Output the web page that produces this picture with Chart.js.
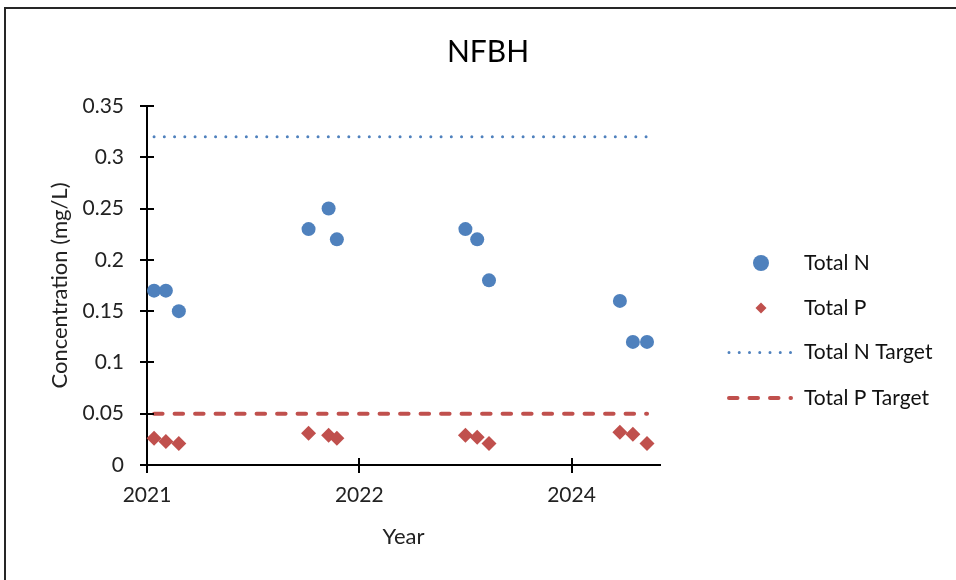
<!DOCTYPE html>
<html>
<head>
<meta charset="utf-8">
<title>NFBH</title>
<script src="https://cdn.jsdelivr.net/npm/chart.js@4.4.1/dist/chart.umd.min.js"></script>
<style>
  html, body { margin: 0; padding: 0; background: #fff; overflow: hidden; }
  #wrap { position: relative; width: 956px; height: 580px; }
  #frame { position: absolute; left: 4px; top: 7px; width: 1000px; height: 700px; border: 2px solid #262626; pointer-events: none; }
</style>
</head>
<body>
<div id="wrap">
  <canvas id="chart" width="956" height="580"></canvas>
  <div id="frame"></div>
</div>
<script>
// sampling dates, as months after Jan 2021
const sampleMonths = [0.6, 1.6, 2.7, 13.7, 15.4, 16.1, 27.0, 28.0, 29.0, 40.1, 41.2, 42.4];
const totalN = [0.17, 0.17, 0.15, 0.23, 0.25, 0.22, 0.23, 0.22, 0.18, 0.16, 0.12, 0.12];
const totalP = [0.026, 0.023, 0.021, 0.031, 0.029, 0.026, 0.029, 0.027, 0.021, 0.032, 0.030, 0.021];

// targets run from first to last sample
const targetMonths = [0.6, 42.4];
const totalNTarget = [0.32, 0.32];
const totalPTarget = [0.05, 0.05];

const xTickMonths = [0, 18, 36];
const xTickLabels = ['2021', '2022', '2024'];
const yTickLabels = ['0', '0.05', '0.1', '0.15', '0.2', '0.25', '0.3', '0.35'];

const chartTitle = 'NFBH';
const blue = '#4F81BD';
const red = '#C0504D';

Chart.defaults.font.family = "Lato, 'Open Sans', sans-serif";
Chart.defaults.color = '#222';

const toPoints = (xs, ys) => xs.map((x, i) => ({ x: x, y: ys[i] }));

// Excel style "cross" tick marks: the part inside the plot
const crossTicks = {
    id: 'crossTicks',
    afterDraw(chart) {
        const { ctx, chartArea, scales } = chart;
        ctx.save();
        ctx.strokeStyle = '#000';
        ctx.lineWidth = 2;
        ctx.beginPath();
        scales.y.ticks.forEach(t => {
            const py = Math.round(scales.y.getPixelForValue(t.value));
            ctx.moveTo(chartArea.left, py);
            ctx.lineTo(chartArea.left + 7, py);
        });
        scales.x.ticks.forEach(t => {
            const px = Math.round(scales.x.getPixelForValue(t.value));
            ctx.moveTo(px, chartArea.bottom);
            ctx.lineTo(px, chartArea.bottom - 7);
        });
        ctx.stroke();
        ctx.restore();
    }
};

// title and legend on the right
const titleAndLegend = {
    id: 'titleAndLegend',
    afterDraw(chart) {
        const ctx = chart.ctx;
        ctx.save();
        ctx.fillStyle = '#000';
        ctx.font = "30px Lato, 'Open Sans', sans-serif";
        ctx.textAlign = 'center';
        ctx.textBaseline = 'middle';
        ctx.fillText(chartTitle, 488, 52);

        const rows = [263, 308, 352.5, 398];
        chart.data.datasets.forEach((ds, i) => {
            const cy = rows[i];
            if (ds.showLine) {
                ctx.save();
                ctx.strokeStyle = ds.borderColor;
                ctx.lineWidth = ds.borderWidth;
                ctx.lineCap = ds.borderCapStyle;
                ctx.setLineDash(ds.borderDash);
                ctx.beginPath();
                ctx.moveTo(729, cy);
                ctx.lineTo(791, cy);
                ctx.stroke();
                ctx.restore();
            } else {
                ctx.fillStyle = ds.backgroundColor;
                Chart.helpers.drawPoint(ctx, {
                    pointStyle: ds.pointStyle,
                    radius: ds.pointStyle === 'circle' ? 8 : 5.5,
                    rotation: 0,
                    borderWidth: 0
                }, 761, cy);
            }
            ctx.fillStyle = '#111';
            ctx.font = "21px Lato, 'Open Sans', sans-serif";
            ctx.textAlign = 'left';
            ctx.textBaseline = 'middle';
            ctx.fillText(ds.label, 804, cy);
        });
        ctx.restore();
    }
};

new Chart(document.getElementById('chart'), {
    type: 'scatter',
    data: {
        datasets: [
            {
                label: 'Total N',
                data: toPoints(sampleMonths, totalN),
                pointStyle: 'circle',
                pointRadius: 7,
                backgroundColor: blue,
                borderWidth: 0,
                clip: false
            },
            {
                label: 'Total P',
                data: toPoints(sampleMonths, totalP),
                pointStyle: 'rectRot',
                pointRadius: 7.5,
                backgroundColor: red,
                borderWidth: 0,
                clip: false
            },
            {
                label: 'Total N Target',
                data: toPoints(targetMonths, totalNTarget),
                showLine: true,
                borderColor: blue,
                borderWidth: 3,
                borderDash: [0, 10.25],
                borderCapStyle: 'round',
                pointRadius: 0,
                fill: false,
                clip: false
            },
            {
                label: 'Total P Target',
                data: toPoints(targetMonths, totalPTarget),
                showLine: true,
                borderColor: red,
                borderWidth: 4,
                borderDash: [8.5, 12],
                borderCapStyle: 'round',
                pointRadius: 0,
                fill: false,
                clip: false
            }
        ]
    },
    options: {
        responsive: false,
        animation: false,
        events: [],
        layout: { padding: { top: 106, right: 296, bottom: 0, left: 0 } },
        plugins: {
            legend: { display: false },
            title: { display: false },
            tooltip: { enabled: false }
        },
        scales: {
            x: {
                type: 'linear',
                min: 0,
                max: 43.5,
                afterBuildTicks: s => { s.ticks = xTickMonths.map(v => ({ value: v })); },
                afterFit: s => { s.height = 115; },
                ticks: {
                    callback: (v, i) => xTickLabels[i],
                    font: { size: 21 },
                    padding: 10,
                    maxRotation: 0,
                    autoSkip: false
                },
                grid: { drawOnChartArea: false, color: '#000', lineWidth: 2, tickLength: 8 },
                border: { color: '#000', width: 2 },
                title: {
                    display: true,
                    text: 'Year',
                    font: { size: 22 },
                    padding: { top: 0, bottom: 30 }
                }
            },
            y: {
                min: 0,
                max: 0.35,
                afterFit: s => { s.width = 147; },
                ticks: {
                    stepSize: 0.05,
                    callback: (v, i) => yTickLabels[i],
                    font: { size: 21 },
                    padding: 16
                },
                grid: { drawOnChartArea: false, color: '#000', lineWidth: 2, tickLength: 7 },
                border: { color: '#000', width: 2 },
                title: {
                    display: true,
                    text: 'Concentration (mg/L)',
                    font: { size: 22 },
                    padding: { top: 47, bottom: 0 }
                }
            }
        }
    },
    plugins: [crossTicks, titleAndLegend]
});
</script>
</body>
</html>
